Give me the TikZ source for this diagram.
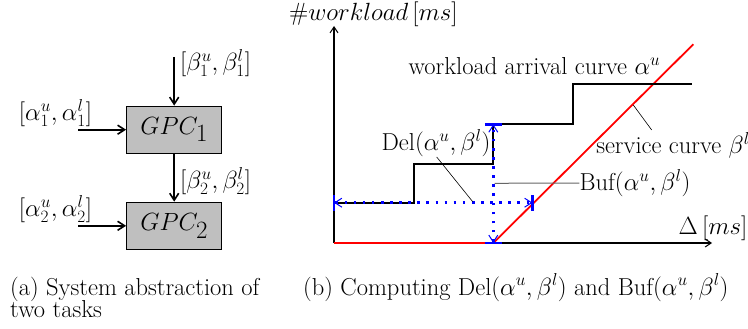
\documentclass[tikz,border=0pt]{standalone}
\usetikzlibrary{arrows.meta}
\begin{document}
\begin{tikzpicture}[x=1pt,y=-1pt,
  every node/.style={font=\fontsize{24.5}{29}\selectfont, inner sep=0pt},
  gpc/.style={draw=black, line width=1.2pt, fill=black!25, minimum width=95pt, minimum height=47pt, font=\fontsize{34}{38}\selectfont},
  flow/.style={line width=2pt, -{Straight Barb[length=7pt,width=9pt,line width=1.6pt]}},
  axis/.style={line width=1.2pt, -{Straight Barb[length=6pt,width=8pt,line width=1pt]}},
  arrcurve/.style={line width=2.2pt, black},
  servcurve/.style={line width=1.8pt, red},
  measure/.style={blue, line width=2.6pt, dash pattern=on 2.6pt off 6.5pt, {Straight Barb[length=7pt,width=9pt,line width=1pt]}-{Straight Barb[length=7pt,width=9pt,line width=1pt]}},
  bar/.style={blue, line width=2.6pt},
  leader/.style={line width=0.6pt, black}
]
\useasboundingbox (0,0) rectangle (748,329);

% ---- (a) ----
\node[gpc] (g1) at (174.2,129.7) {$GPC_1$};
\node[gpc] (g2) at (174.2,225.8) {$GPC_2$};
\coordinate (top) at (174.2,57);
\coordinate (in1) at (78,129.7);
\coordinate (in2) at (78,225.8);
\draw[flow] (top) -- (g1.north);
\draw[flow] (g1.south) -- (g2.north);
\draw[flow] (in1) -- (g1.west);
\draw[flow] (in2) -- (g2.west);
\node (la1) at (55.5,113) {$[\alpha_1^u,\alpha_1^l]$};
\node (la2) at (55.5,209) {$[\alpha_2^u,\alpha_2^l]$};
\node[anchor=west] (lb1) at (180,63) {$[\beta_1^u,\beta_1^l]$};
\node[anchor=west] (lb2) at (180,181) {$[\beta_2^u,\beta_2^l]$};
\node[anchor=base west] (capa1) at (10,295) {(a) System abstraction of};
\node[anchor=base west] (capa2) at (10,317) {two tasks};

% ---- (b) ----
\coordinate (O) at (334,243);
\coordinate (ytop) at (334,26);
\coordinate (xend) at (712,243);
\draw[axis] (O) -- (ytop);
\draw[axis] (O) -- (xend);
\node[anchor=base west] (ylab) at (289,21) {$\#workload\,[ms]$};
\node (xlab) at (713,228) {$\Delta\,[ms]$};

% service curve
\coordinate (s0) at (334,243);
\coordinate (s1) at (493.3,243);
\coordinate (s2) at (693.3,44.3);
\draw[servcurve] (s0) -- (s1) -- (s2);

% arrival curve
\draw[arrcurve] (334,202.7) -- (414,202.7) -- (414,164) -- (493.3,164) -- (493.3,124.3) -- (573.3,124.3) -- (573.3,84.3) -- (692.3,84.3);

% measures
\coordinate (hL) at (334,202.7);
\coordinate (hR) at (532.5,202.7);
\coordinate (vB) at (493.3,243);
\coordinate (vT) at (493.3,124.3);
\draw[measure] (hL) -- (hR);
\draw[measure] (vB) -- (vT);
\draw[bar] ([yshift=-8pt]hL) -- ([yshift=8pt]hL);
\draw[bar] ([yshift=-8pt]hR) -- ([yshift=8pt]hR);
\draw[bar] ([xshift=-8.5pt]vB) -- ([xshift=8.5pt]vB);
\draw[bar] ([xshift=-8.5pt]vT) -- ([xshift=8.5pt]vT);

% labels
\node (arrlab) at (534.5,66) {workload arrival curve $\alpha^u$};
\node (servlab) at (673,145) {service curve $\beta^l$};
\coordinate (servp) at (633.3,105);
\draw[leader] (servp) -- (651.7,130);
\node (dellab) at (436,143) {Del$(\alpha^u,\beta^l)$};
\coordinate (delp) at (472.7,201.7);
\draw[leader] (436.7,157) -- (delp);
\node (buflab) at (635,183) {Buf$(\alpha^u,\beta^l)$};
\coordinate (bufp) at (494.5,183.3);
\draw[leader, black!60, line width=1pt] (bufp) -- (buflab.west);

\node[anchor=base west] (capb) at (303,295) {(b) Computing Del$(\alpha^u,\beta^l)$ and Buf$(\alpha^u,\beta^l)$};
\end{tikzpicture}
\end{document}
